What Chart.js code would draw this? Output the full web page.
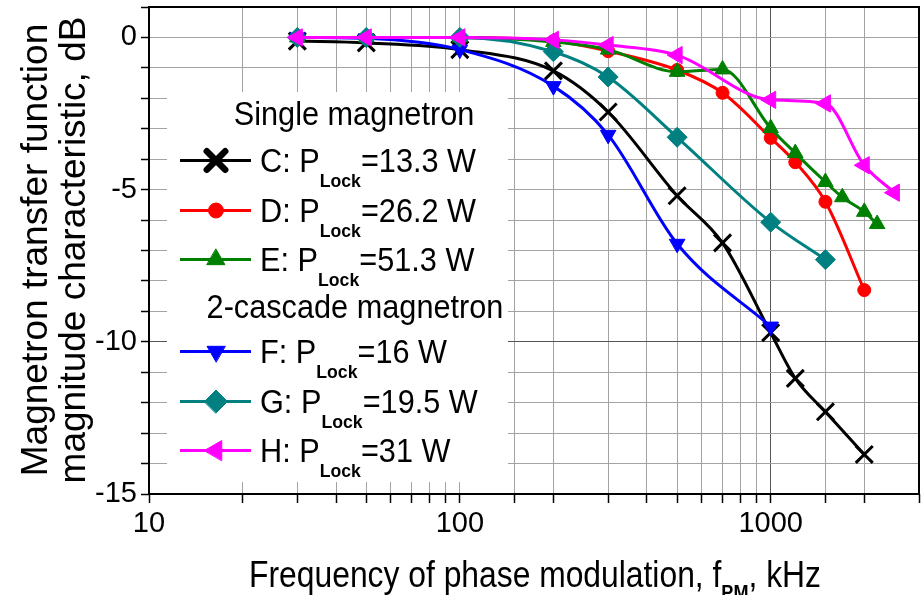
<!DOCTYPE html>
<html>
<head>
<meta charset="utf-8">
<script src="https://cdn.jsdelivr.net/npm/chart.js@4.4.1/dist/chart.umd.min.js"></script>
<style>
  html, body { margin: 0; padding: 0; background: #fff; }
  #wrap { position: relative; width: 923px; height: 595px; }
</style>
</head>
<body>
<div id="wrap"><canvas id="chart"></canvas></div>
<script>
"use strict";

const FONT = "'Liberation Sans', Arial, sans-serif";

// Frequencies (kHz) and magnitude (dB)
const freqC = [30, 50, 100, 200, 300, 500, 700, 1000, 1200, 1500, 2000];
const magC = [-0.12, -0.18, -0.4, -1.1, -2.45, -5.2, -6.75, -9.7, -11.2, -12.3, -13.7];

const freqD = [30, 50, 100, 200, 300, 500, 700, 1000, 1200, 1500, 2000];
const magD = [0, 0, 0, -0.12, -0.45, -1.07, -1.82, -3.3, -4.1, -5.4, -8.3];

const freqE = [30, 50, 100, 200, 300, 500, 700, 1000, 1200, 1500, 1700, 2000, 2200];
const magE = [0, 0, 0, -0.15, -0.4, -1.13, -1.05, -2.98, -3.8, -4.75, -5.25, -5.73, -6.13];

const freqF = [30, 50, 100, 200, 300, 500, 1000];
const magF = [0, -0.03, -0.4, -1.6, -3.2, -6.78, -9.5];

const freqG = [30, 50, 100, 200, 300, 500, 1000, 1500];
const magG = [0, 0, 0, -0.47, -1.3, -3.28, -6.07, -7.3];

const freqH = [30, 50, 100, 200, 300, 500, 1000, 1500, 2000, 2500];
const magH = [0, 0, 0, -0.08, -0.25, -0.58, -2.05, -2.17, -4.2, -5.1];

const seriesNames = ['C: P', 'D: P', 'E: P', 'F: P', 'G: P', 'H: P'];
const seriesPower = ['=13.3 W', '=26.2 W', '=51.3 W', '=16 W', '=19.5 W', '=31 W'];
const subscriptLock = 'Lock';
const groupTitles = ['Single magnetron', '2-cascade magnetron'];

const xTickLabels = [10, 100, 1000];
const yTickLabels = [0, -5, -10, -15];

const yTitle = ['Magnetron transfer function', 'magnitude characteristic, dB'];
const xTitle = ['Frequency of phase modulation, f', 'PM', ', kHz'];

// marker / line styles per series
const styles = [
  { color: '#000000', pointStyle: 'crossRot', rotation: 0, radius: 12, bw: 3, order: 6 },
  { color: '#ff0000', pointStyle: 'circle', rotation: 0, radius: 6.5, bw: 1, order: 5 },
  { color: '#008000', pointStyle: 'triangle', rotation: 0, radius: 9, bw: 1, order: 4 },
  { color: '#0000ff', pointStyle: 'triangle', rotation: 180, radius: 9, bw: 1, order: 3 },
  { color: '#008080', pointStyle: 'rectRot', rotation: 0, radius: 10, bw: 1, order: 2 },
  { color: '#ff00ff', pointStyle: 'triangle', rotation: 270, radius: 10, bw: 1, order: 1 },
];

const series = [
  [freqC, magC], [freqD, magD], [freqE, magE],
  [freqF, magF], [freqG, magG], [freqH, magH],
];

const datasets = series.map(([fx, fy], i) => {
  const s = styles[i];
  return {
    label: seriesNames[i] + subscriptLock + seriesPower[i],
    data: fx.map((f, k) => ({ x: f, y: fy[k] })),
    borderColor: s.color,
    backgroundColor: s.color,
    borderWidth: 3,
    pointStyle: s.pointStyle,
    pointRotation: s.rotation,
    pointRadius: s.radius,
    pointBorderWidth: s.bw,
    pointBackgroundColor: s.color,
    pointBorderColor: s.color,
    cubicInterpolationMode: 'monotone',
    order: s.order,
  };
});

// text with horizontal squeeze, pieces can be shifted down (subscripts)
function drawRich(ctx, x, y, parts, sx, align) {
  let total = 0;
  parts.forEach(p => { ctx.font = p.font; total += ctx.measureText(p.t).width; });
  const start = align === 'center' ? x - total * sx / 2 : x;
  ctx.save();
  ctx.translate(start, y);
  ctx.scale(sx, 1);
  ctx.fillStyle = '#000';
  ctx.textAlign = 'left';
  ctx.textBaseline = 'alphabetic';
  let cx = 0;
  parts.forEach(p => {
    ctx.font = p.font;
    ctx.fillText(p.t, cx, p.dy || 0);
    cx += ctx.measureText(p.t).width;
  });
  ctx.restore();
}

const mainFont = '33px ' + FONT;
const subFont = 'bold 19px ' + FONT;

const decor = {
  id: 'decor',
  afterDatasetsDraw(chart) {
    const { ctx, chartArea: a } = chart;
    ctx.save();
    ctx.strokeStyle = '#000';
    ctx.lineWidth = 2;
    ctx.strokeRect(a.left, a.top, a.right - a.left, a.bottom - a.top);
    ctx.restore();
  },
  afterDraw(chart) {
    const ctx = chart.ctx;

    // legend box
    ctx.save();
    ctx.fillStyle = '#fff';
    ctx.fillRect(167, 92, 341, 390);
    ctx.restore();

    drawRich(ctx, 354, 125, [{ t: groupTitles[0], font: mainFont }], 0.93, 'center');
    drawRich(ctx, 355, 318, [{ t: groupTitles[1], font: mainFont }], 0.93, 'center');

    const rowBase = [172, 222, 271, 363, 413, 462];
    chart.data.datasets.forEach((ds, i) => {
      const yb = rowBase[i];
      const ly = yb - 11.5;
      ctx.save();
      ctx.strokeStyle = ds.borderColor;
      ctx.lineWidth = 3;
      ctx.beginPath();
      ctx.moveTo(180, ly);
      ctx.lineTo(251, ly);
      ctx.stroke();
      ctx.fillStyle = ds.pointBackgroundColor;
      ctx.strokeStyle = ds.pointBorderColor;
      ctx.lineWidth = ds.pointStyle === 'crossRot' ? 6.5 : 1;
      ctx.lineCap = 'round';
      Chart.helpers.drawPoint(ctx, {
        pointStyle: ds.pointStyle,
        rotation: ds.pointRotation,
        radius: ds.pointStyle === 'crossRot' ? 13 : ds.pointRadius * 1.15,
        borderWidth: ctx.lineWidth,
      }, 216, ly);
      ctx.restore();

      drawRich(ctx, 260, yb, [
        { t: seriesNames[i], font: mainFont },
        { t: subscriptLock, font: subFont, dy: 15 },
        { t: seriesPower[i], font: mainFont },
      ], 0.93, 'left');
    });

    // y axis title (two rotated lines)
    ctx.save();
    ctx.fillStyle = '#000';
    ctx.font = '37px ' + FONT;
    ctx.textAlign = 'center';
    ctx.textBaseline = 'alphabetic';
    [47, 85].forEach((bx, k) => {
      ctx.save();
      ctx.translate(bx, 250);
      ctx.rotate(-Math.PI / 2);
      ctx.fillText(yTitle[k], 0, 0);
      ctx.restore();
    });
    ctx.restore();

    // x axis title with subscript
    drawRich(ctx, 535, 587, [
      { t: xTitle[0], font: '37px ' + FONT },
      { t: xTitle[1], font: 'bold 21px ' + FONT, dy: 12 },
      { t: xTitle[2], font: '37px ' + FONT },
    ], 0.86, 'center');
  },
};

const gridGrey = '#a3a3a3';

new Chart(document.getElementById('chart'), {
  type: 'line',
  data: { datasets },
  plugins: [decor],
  options: {
    responsive: true,
    maintainAspectRatio: false,
    animation: false,
    devicePixelRatio: 1,
    layout: { autoPadding: false, padding: { left: 0, top: 7, right: 4, bottom: 0 } },
    plugins: {
      legend: { display: false },
      tooltip: { enabled: false },
    },
    scales: {
      x: {
        type: 'logarithmic',
        min: 10,
        max: 3000,
        border: { display: false },
        grid: {
          color: (c) => (c.tick && c.tick.value === 1000 ? '#555' : gridGrey),
          lineWidth: 1,
          tickColor: '#000',
          tickLength: 9,
          tickWidth: 1.5,
        },
        ticks: {
          color: '#000',
          font: { family: FONT, size: 29 },
          padding: 4,
          maxRotation: 0,
          autoSkip: false,
          callback: (v) => (xTickLabels.includes(v) ? String(v) : ''),
        },
        afterFit(scale) {
          scale.height = 101;
          scale.paddingLeft = 0;
          scale.paddingRight = 0;
        },
      },
      y: {
        type: 'linear',
        min: -15,
        max: 1,
        border: { display: false },
        grid: {
          color: (c) => (c.tick && c.tick.value === -10 ? '#555' : gridGrey),
          lineWidth: 1,
          tickColor: '#000',
          tickLength: 8,
          tickWidth: 1.5,
        },
        ticks: {
          stepSize: 1,
          color: '#000',
          font: { family: FONT, size: 29 },
          padding: 4,
          autoSkip: false,
          callback: (v) => (yTickLabels.includes(v) ? String(v) : ''),
        },
        afterFit(scale) {
          scale.width = 149;
          scale.paddingTop = 0;
          scale.paddingBottom = 0;
        },
      },
    },
  },
});
</script>
</body>
</html>
